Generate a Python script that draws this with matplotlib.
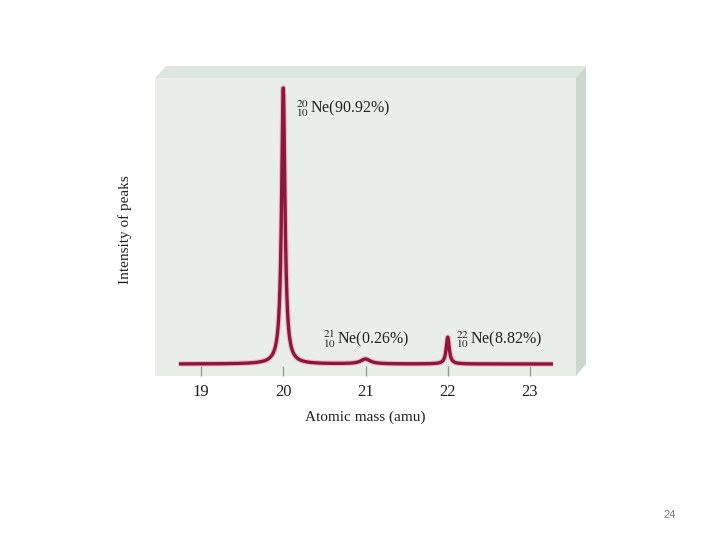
import numpy as np
import matplotlib
matplotlib.use('Agg')
import matplotlib.pyplot as plt
from matplotlib.patches import Polygon

# peaks (position in amu, drawn height in %, half width)
peak_mass = [20.0, 21.0, 22.0]
peak_height = [90.92, 1.6, 8.82]
peak_width = [0.025, 0.07, 0.022]
peak_labels = [r'${}^{20}_{10}\,$Ne(90.92%)', r'${}^{21}_{10}\,$Ne(0.26%)',
               r'${}^{22}_{10}\,$Ne(8.82%)']
label_pos = [(20.15, 84.0), (20.48, 8.0), (22.1, 8.0)]
mass_ticks = [19, 20, 21, 22, 23]

plt.rcParams['font.family'] = ['Liberation Serif', 'DejaVu Serif']
plt.rcParams['mathtext.fontset'] = 'stix'

fig = plt.figure(figsize=(7.2, 5.4), dpi=100)
fig.patch.set_facecolor('white')

W, H = 720.0, 540.0
def fp(x, y):
    # pixel coords (top-left origin) -> figure fraction
    return (x / W, 1 - y / H)

# bevel faces of the panel
top_face = Polygon([fp(155, 78), fp(166, 66), fp(586, 66), fp(576, 78)],
                   closed=True, transform=fig.transFigure,
                   facecolor='#dfe6df', edgecolor='none')
side_face = Polygon([fp(576, 78), fp(586, 66), fp(586, 364), fp(576, 376)],
                    closed=True, transform=fig.transFigure,
                    facecolor='#cbd6cd', edgecolor='none')
fig.patches.extend([top_face, side_face])

ax = fig.add_axes([155 / W, 1 - 376 / H, (576 - 155) / W, (376 - 78) / H])
ax.set_facecolor('#e9eee9')
for s in ax.spines.values():
    s.set_visible(False)

x = np.linspace(18.73, 23.28, 6000)
y = np.zeros_like(x)
for m, h, g in zip(peak_mass, peak_height, peak_width):
    y += h * g ** 2 / ((x - m) ** 2 + g ** 2)
ax.plot(x, y, color='#f2b8c6', lw=4.0, solid_capstyle='butt', zorder=2)
ax.plot(x, y, color='#8a1838', lw=2.4, solid_capstyle='butt', zorder=3)

for txt, (lx, ly) in zip(peak_labels, label_pos):
    ax.text(lx, ly, txt, fontsize=11.5, va='center', ha='left', color='#222222')

ax.set_xlim(18.44, 23.56)
ax.set_ylim(-3.95, 94.2)
ax.set_xticks(mass_ticks)
ax.set_yticks([])
ax.tick_params(axis='x', direction='in', length=7.5, width=1, color='#9a9a9a',
               labelsize=12, labelcolor='#222222', pad=6)
ax.set_xlabel('Atomic mass (amu)', fontsize=11, color='#222222', labelpad=7)

fig.text(125 / W, 1 - 230 / H, 'Intensity of peaks', rotation=90,
         fontsize=11, ha='center', va='center', color='#222222')
fig.text(670 / W, 1 - 515 / H, '24', fontsize=8, ha='center', va='center',
         color='#777777', family='Liberation Sans')

fig.savefig('out.png', dpi=100)
